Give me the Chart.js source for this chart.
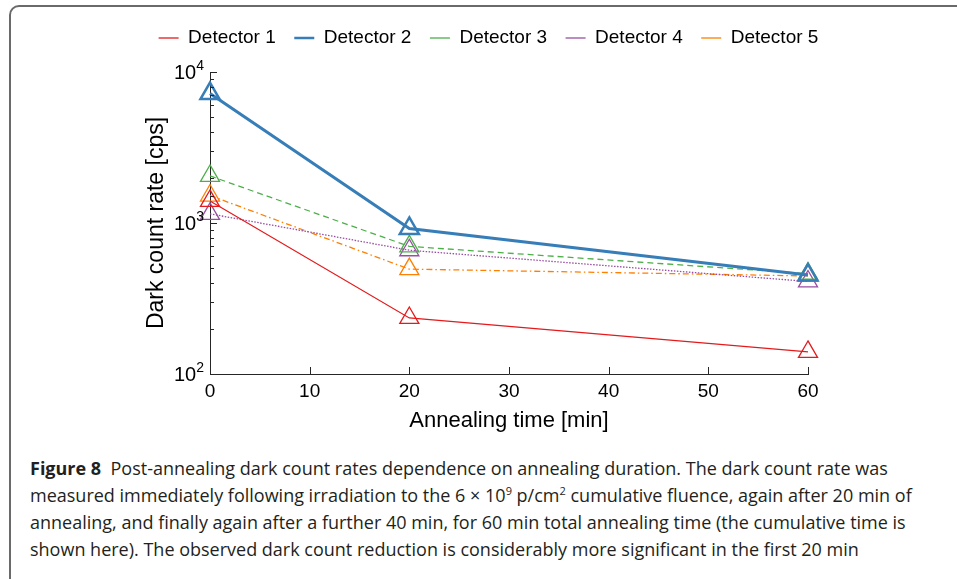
<!DOCTYPE html>
<html lang="en">
<head>
<meta charset="UTF-8">
<title>Figure 8</title>
<script src="https://cdn.jsdelivr.net/npm/chart.js@4.4.0/dist/chart.umd.min.js"></script>
<style>
    body { margin: 0; background: #fff; width: 957px; height: 579px; overflow: hidden; position: relative; }
    #frame { position: absolute; left: 9px; top: 5px; width: 1000px; height: 620px; border: 2px solid #6a6a6a; border-radius: 10px; box-sizing: border-box; }
    #wrap { position: absolute; left: 0; top: 0; width: 957px; height: 434px; }
    #caption { position: absolute; left: 30px; top: 455px; font-family: 'Open Sans', sans-serif;
               font-size: 18px; line-height: 27px; color: #231f20; white-space: nowrap; }
    #caption b { font-weight: bold; }
    #caption sup { font-size: 11px; line-height: 0; vertical-align: 7px; }
</style>
</head>
<body>
<div id="frame"></div>
<div id="wrap"><canvas id="dark-chart" width="957" height="434"></canvas></div>
<div id="caption">
<b>Figure 8</b>&nbsp; Post-annealing dark count rates dependence on annealing duration. The dark count rate was<br>
measured immediately following irradiation to the 6 × 10<sup>9</sup> p/cm<sup>2</sup> cumulative fluence, again after 20 min of<br>
annealing, and finally again after a further 40 min, for 60 min total annealing time (the cumulative time is<br>
shown here). The observed dark count reduction is considerably more significant in the first 20 min
</div>

<script>
// annealing time [min]
const times = [0, 20, 60];
// dark count rate [cps]
const det1 = [1400, 235, 140];
const det2 = [7200, 920, 452];
const det3 = [2050, 700, 462];
const det4 = [1150, 660, 410];
const det5 = [1520, 495, 446];

const xTicks = [0, 10, 20, 30, 40, 50, 60];
const yMajor = [100, 1000, 10000];
const yExp = ['2', '3', '4'];

function pts(vals) {
    return vals.map((v, i) => ({x: times[i], y: v}));
}

function series(label, vals, color, width, dash) {
    return {
        label: label,
        data: pts(vals),
        borderColor: color,
        borderWidth: width,
        borderDash: dash,
        pointStyle: 'triangle',
        pointRadius: 11,
        pointBorderWidth: width > 2 ? 2.5 : 1.3,
        pointBorderColor: color,
        pointBackgroundColor: 'rgba(0,0,0,0)',
        fill: false,
        tension: 0,
        clip: false
    };
}

// legend sizing + inward ticks + 10^n labels, MATLAB style
const axisExtras = {
    id: 'axisExtras',
    beforeInit(chart) {
        const fit = chart.legend.fit;
        chart.legend.fit = function () {
            this.maxWidth = 957;   // keep all five entries on one row
            fit.bind(chart.legend)();
            this.height = 62;      // legend block ends where the plot starts
        };
    },
    afterLayout(chart) {
        // legend spans wider than the plot so the row isn't wrapped
        const lg = chart.legend;
        lg.left = 10;
        lg.right = 967;
        lg.width = 957;
    },
    afterDraw(chart) {
        const ctx = chart.ctx;
        const a = chart.chartArea;
        const x = chart.scales.x, y = chart.scales.y;
        ctx.save();
        ctx.strokeStyle = '#262626';
        ctx.lineWidth = 1;
        ctx.beginPath();
        xTicks.forEach(t => {
            const px = Math.round(x.getPixelForValue(t)) + 0.5;
            ctx.moveTo(px, a.bottom);
            ctx.lineTo(px, a.bottom - 7);
        });
        y.ticks.forEach(t => {
            const py = Math.round(y.getPixelForValue(t.value)) + 0.5;
            const len = yMajor.includes(t.value) ? 7 : 4;
            ctx.moveTo(a.left, py);
            ctx.lineTo(a.left + len, py);
        });
        ctx.stroke();

        ctx.fillStyle = '#000';
        ctx.textBaseline = 'middle';
        ctx.textAlign = 'right';
        yMajor.forEach((v, i) => {
            const py = y.getPixelForValue(v);
            ctx.font = '14px "Liberation Sans", Arial, sans-serif';
            ctx.fillText(yExp[i], a.left - 6, py - 6);
            const w = ctx.measureText(yExp[i]).width;
            ctx.font = '20px "Liberation Sans", Arial, sans-serif';
            ctx.fillText('10', a.left - 6 - w, py + 1);
        });
        ctx.restore();
    }
};

new Chart(document.getElementById('dark-chart'), {
    type: 'line',
    data: {
        datasets: [
            series('Detector 1', det1, '#e41a1c', 1.2, []),
            series('Detector 2', det2, '#377eb8', 3, []),
            series('Detector 3', det3, '#4daf4a', 1.3, [6, 4]),
            series('Detector 4', det4, '#984ea3', 1.3, [1.5, 1.5]),
            series('Detector 5', det5, '#ff7f00', 1.3, [6, 3, 1.5, 3])
        ]
    },
    options: {
        responsive: false,
        animation: false,
        devicePixelRatio: 1,
        layout: { padding: { left: 143, right: 149, top: 10, bottom: 0 } },
        plugins: {
            tooltip: { enabled: false },
            legend: {
                position: 'top',
                labels: {
                    usePointStyle: true,
                    pointStyle: 'line',
                    pointStyleWidth: 20,
                    padding: 18.5,
                    color: '#000',
                    font: { family: '"Liberation Sans", Arial, sans-serif', size: 19 }
                }
            }
        },
        scales: {
            x: {
                type: 'linear',
                min: 0,
                max: 60,
                grid: { display: false },
                border: { display: true, color: '#262626', width: 1 },
                ticks: {
                    stepSize: 10,
                    padding: -2,
                    color: '#000',
                    font: { family: '"Liberation Sans", Arial, sans-serif', size: 19 }
                },
                title: {
                    display: true,
                    text: 'Annealing time [min]',
                    color: '#000',
                    padding: 0,
                    font: { family: '"Liberation Sans", Arial, sans-serif', size: 22 }
                },
                afterFit(scale) { scale.height = 60; }
            },
            y: {
                type: 'logarithmic',
                min: 100,
                max: 10000,
                grid: { display: false },
                border: { display: true, color: '#262626', width: 1 },
                ticks: { display: false },
                title: {
                    display: true,
                    text: 'Dark count rate [cps]',
                    color: '#000',
                    padding: 0,
                    font: { family: '"Liberation Sans", Arial, sans-serif', size: 23 }
                },
                afterFit(scale) { scale.width = 67; }
            }
        }
    },
    plugins: [axisExtras]
});
</script>
</body>
</html>
